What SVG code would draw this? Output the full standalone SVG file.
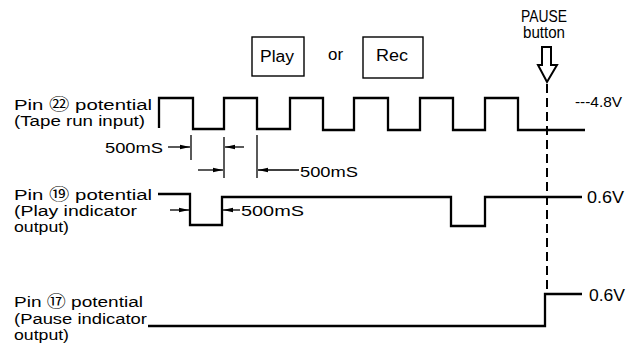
<svg xmlns="http://www.w3.org/2000/svg" width="644" height="358" viewBox="0 0 644 358">
<style>
  text { font-family: "Liberation Sans", Arial, "Noto Sans CJK JP", sans-serif; fill: #000; }
  .lbl { font-size: 15.5px; }
  .sm { font-size: 15px; }
  .md { font-size: 16px; }
  .wave { fill: none; stroke: #000; stroke-width: 2.3; stroke-linejoin: miter; }
  .dim { fill: none; stroke: #000; stroke-width: 1.3; }
  .box { fill: none; stroke: #000; stroke-width: 1.4; }
</style>
<defs>
  <marker id="ah" markerUnits="userSpaceOnUse" markerWidth="11" markerHeight="6" refX="10" refY="3" orient="auto">
    <path d="M0,0.8 L10,3 L0,5.2 z" fill="#000"/>
  </marker>
</defs>
<rect x="0" y="0" width="644" height="358" fill="#fff"/>

<g id="btn-play">
  <rect class="box" x="252" y="37" width="52" height="39"/>
  <text class="md" x="260" y="62" textLength="34" lengthAdjust="spacingAndGlyphs">Play</text>
</g>
<g id="txt-or">
  <text class="md" x="328" y="60" textLength="15" lengthAdjust="spacingAndGlyphs">or</text>
</g>
<g id="btn-rec">
  <rect class="box" x="363" y="37" width="60" height="41"/>
  <text class="md" x="376" y="61" textLength="32" lengthAdjust="spacingAndGlyphs">Rec</text>
</g>

<g id="pause-button">
  <text class="md" x="521" y="21.5" textLength="46" lengthAdjust="spacingAndGlyphs">PAUSE</text>
  <text class="md" x="523" y="37.5" textLength="42" lengthAdjust="spacingAndGlyphs">button</text>
  <path d="M542,47 H551 V65 H557 L547,82 L538,65 H542 Z" fill="#fff" stroke="#000" stroke-width="2" stroke-linejoin="miter"/>
</g>

<g id="pin22">
  <text class="lbl" x="14" y="110" textLength="138" lengthAdjust="spacingAndGlyphs">Pin ㉒ potential</text>
  <text class="lbl" x="14" y="125.5" textLength="131" lengthAdjust="spacingAndGlyphs">(Tape run input)</text>
  <path class="wave" d="M159,128 V98 H193 V129 H224 V98 H257 V129 H290 V98 H323 V130 H354 V98 H388 V130 H420 V98 H453 V130 H485 V98 H518 V130 H585"/>
  <text class="sm" x="575" y="107" textLength="47" lengthAdjust="spacingAndGlyphs">---4.8V</text>
</g>

<g id="pin19">
  <text class="lbl" x="14" y="199.5" textLength="138" lengthAdjust="spacingAndGlyphs">Pin ⑲ potential</text>
  <text class="lbl" x="14" y="215.5" textLength="123" lengthAdjust="spacingAndGlyphs">(Play indicator</text>
  <text class="lbl" x="14" y="231.5" textLength="55" lengthAdjust="spacingAndGlyphs">output)</text>
  <path class="wave" d="M158,194 H190 V225 H222 V197 H451 V226 H485 V197 H582"/>
  <text class="md" x="587" y="203" textLength="37" lengthAdjust="spacingAndGlyphs">0.6V</text>
</g>

<g id="pin17">
  <text class="lbl" x="14" y="307" textLength="129" lengthAdjust="spacingAndGlyphs">Pin ⑰ potential</text>
  <text class="lbl" x="14" y="323.5" textLength="133" lengthAdjust="spacingAndGlyphs">(Pause indicator</text>
  <text class="lbl" x="14" y="340" textLength="55" lengthAdjust="spacingAndGlyphs">output)</text>
  <path class="wave" d="M148,326 H545 V294 H582"/>
  <text class="md" x="589" y="301" textLength="36" lengthAdjust="spacingAndGlyphs">0.6V</text>
</g>

<g id="timing-labels">
  <text class="sm" x="105" y="153" textLength="58" lengthAdjust="spacingAndGlyphs">500mS</text>
  <text class="sm" x="300" y="176.5" textLength="58" lengthAdjust="spacingAndGlyphs">500mS</text>
  <text class="sm" x="241" y="216" textLength="63" lengthAdjust="spacingAndGlyphs">500mS</text>
</g>

<g id="connectors">
  <line class="dim" x1="191" y1="135" x2="191" y2="160"/>
  <line class="dim" x1="224" y1="137" x2="224" y2="178"/>
  <line class="dim" x1="257" y1="135" x2="257" y2="178"/>
  <line class="dim" x1="168" y1="147" x2="190" y2="147" marker-end="url(#ah)"/>
  <line class="dim" x1="244" y1="147" x2="225" y2="147" marker-end="url(#ah)"/>
  <line class="dim" x1="198" y1="170" x2="223" y2="170" marker-end="url(#ah)"/>
  <line class="dim" x1="299" y1="170" x2="258" y2="170" marker-end="url(#ah)"/>
  <line class="dim" x1="170" y1="210" x2="189" y2="210" marker-end="url(#ah)"/>
  <line class="dim" x1="240" y1="210" x2="223" y2="210" marker-end="url(#ah)"/>
  <line x1="547" y1="84" x2="547" y2="294" stroke="#000" stroke-width="2" stroke-dasharray="9 5"/>
</g>
</svg>
